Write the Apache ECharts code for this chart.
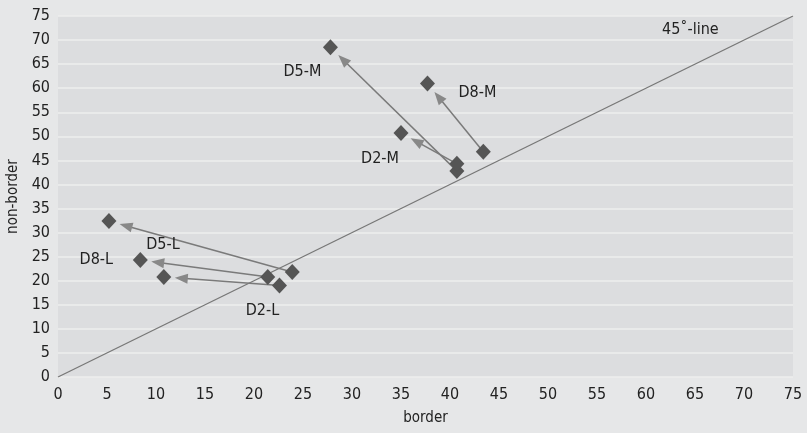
<!DOCTYPE html>
<html><head><meta charset="utf-8">
<script src="https://cdn.jsdelivr.net/npm/echarts@6/dist/echarts.min.js"></script>
<style>html,body{margin:0;padding:0;background:#e6e7e8;}#c{width:807px;height:433px;}</style>
</head><body><div id="c"></div>
<script>
// Arrow names
var names = ['D5-L', 'D8-L', 'D2-L', 'D5-M', 'D8-M', 'D2-M'];
// Start points (border, non-border)
var startX = [23.9, 21.4, 22.6, 40.7, 43.4, 40.7];
var startY = [21.8, 20.8, 19.0, 42.8, 46.8, 44.3];
// End points (border, non-border)
var endX = [5.2, 8.4, 10.8, 27.8, 37.7, 35.0];
var endY = [32.4, 24.3, 20.8, 68.5, 61.0, 50.7];
// Axis ticks
var xTicks = [0, 5, 10, 15, 20, 25, 30, 35, 40, 45, 50, 55, 60, 65, 70, 75];
var yTicks = [0, 5, 10, 15, 20, 25, 30, 35, 40, 45, 50, 55, 60, 65, 70, 75];
var diagonal = [[0, 0], [75, 75]];

var FONT = '"DejaVu Sans Condensed", "Liberation Sans Narrow", sans-serif';
// label placement (style): which point and pixel offset
var labelPlace = {
  'D5-L': {at: 'end', offset: [54, 24]},
  'D8-L': {at: 'end', offset: [-44, 0]},
  'D2-L': {at: 'start', offset: [-17, 25]},
  'D5-M': {at: 'end', offset: [-28, 25]},
  'D8-M': {at: 'end', offset: [50, 9]},
  'D2-M': {at: 'end', offset: [-21, 26]}
};

var pts = [];
for (var i = 0; i < names.length; i++) {
  var lp = labelPlace[names[i]];
  ['start', 'end'].forEach(function (w) {
    var item = {value: w === 'start' ? [startX[i], startY[i]] : [endX[i], endY[i]]};
    if (lp.at === w) {
      item.label = {show: true, formatter: names[i], position: 'inside', offset: lp.offset,
        color: '#222', fontSize: 16, fontFamily: FONT};
    }
    pts.push(item);
  });
}
var arrows = names.map(function (n, i) { return [startX[i], startY[i], endX[i], endY[i]]; });

var chart = echarts.init(document.getElementById('c'));
chart.setOption({
  backgroundColor: '#e6e7e8',
  animation: false,
  grid: {left: 58, right: 14, top: 16, bottom: 56, show: true, backgroundColor: '#dcdddf', borderWidth: 0,
    containLabel: false, outerBoundsMode: 'none'},
  xAxis: {
    type: 'value', min: xTicks[0], max: xTicks[xTicks.length - 1], interval: 5,
    name: 'border', nameLocation: 'middle', nameGap: 34,
    nameTextStyle: {fontSize: 15, color: '#222', fontFamily: FONT},
    axisLine: {show: false}, axisTick: {show: false},
    axisLabel: {fontSize: 16, color: '#222', fontFamily: FONT, margin: 10},
    splitLine: {show: false}
  },
  yAxis: {
    type: 'value', min: yTicks[0], max: yTicks[yTicks.length - 1], interval: 5,
    name: 'non-border', nameLocation: 'middle', nameGap: 36,
    nameTextStyle: {fontSize: 15, color: '#222', fontFamily: FONT},
    axisLine: {show: false}, axisTick: {show: false},
    axisLabel: {fontSize: 16, color: '#222', fontFamily: FONT, margin: 8},
    splitLine: {show: true, lineStyle: {color: '#eeeeee', width: 1.5}}
  },
  series: [
    {
      type: 'line', data: diagonal, showSymbol: false, symbol: 'none', silent: true,
      lineStyle: {color: '#777', width: 1.3}, z: 2,
      endLabel: {show: true, formatter: '45˚-line', offset: [-139, 14], color: '#222', fontSize: 16, fontFamily: FONT}
    },
    {
      type: 'custom', z: 3, data: arrows,
      renderItem: function (params, api) {
        var p1 = api.coord([api.value(0), api.value(1)]);
        var p2 = api.coord([api.value(2), api.value(3)]);
        var dx = p2[0] - p1[0], dy = p2[1] - p1[1];
        var len = Math.sqrt(dx * dx + dy * dy);
        var ux = dx / len, uy = dy / len;
        var tip = [p2[0] - ux * 11, p2[1] - uy * 11];
        var headLen = 13, headW = 5;
        var base = [tip[0] - ux * headLen, tip[1] - uy * headLen];
        var nx = -uy, ny = ux;
        var s = [p1[0] + ux * 3, p1[1] + uy * 3];
        return {type: 'group', children: [
          {type: 'line', shape: {x1: s[0], y1: s[1], x2: base[0] + ux * 2, y2: base[1] + uy * 2},
            style: {stroke: '#7a7a7a', lineWidth: 1.5}},
          {type: 'polygon', shape: {points: [tip, [base[0] + nx * headW, base[1] + ny * headW], [base[0] - nx * headW, base[1] - ny * headW]]},
            style: {fill: '#888888'}}
        ]};
      }
    },
    {
      type: 'scatter', z: 4, symbol: 'diamond', symbolSize: [15, 16], data: pts,
      itemStyle: {color: '#555555', opacity: 1}
    }
  ]
});
</script></body></html>
